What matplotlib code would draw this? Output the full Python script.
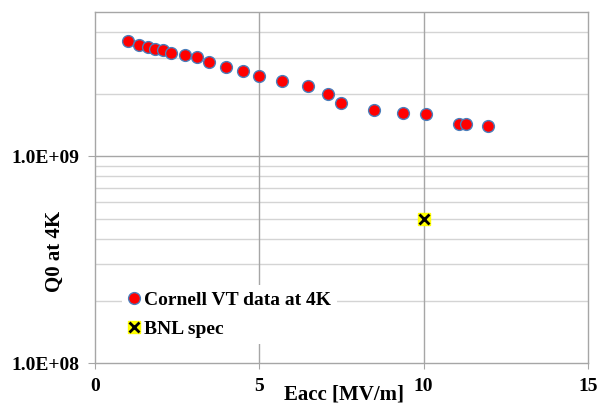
import numpy as np
import matplotlib
matplotlib.use("Agg")
import matplotlib.pyplot as plt
from matplotlib.ticker import FixedLocator, NullFormatter
from matplotlib.legend_handler import HandlerTuple

# Cornell vertical test data at 4K
eacc = [1.01, 1.33, 1.60, 1.83, 2.08, 2.31, 2.74, 3.10, 3.47, 3.98, 4.49, 4.99,
        5.68, 6.47, 7.08, 7.49, 8.48, 9.38, 10.06, 11.07, 11.28, 11.97]
q0 = [3.60e9, 3.47e9, 3.40e9, 3.30e9, 3.27e9, 3.18e9, 3.11e9, 3.02e9, 2.85e9,
      2.70e9, 2.58e9, 2.44e9, 2.32e9, 2.19e9, 2.00e9, 1.81e9, 1.67e9, 1.62e9,
      1.60e9, 1.44e9, 1.43e9, 1.40e9]

# BNL spec
spec_eacc = [10]
spec_q0 = [5e8]

plt.rcParams['font.family'] = ['Liberation Serif', 'DejaVu Serif']
plt.rcParams['font.weight'] = 'bold'

fig = plt.figure(figsize=(6.02, 4.05), dpi=100)
ax = fig.add_axes([0.1578, 0.1037, 0.8189, 0.8667])

ax.set_yscale('log')
ax.set_xlim(0, 15)
ax.set_ylim(1e8, 5e9)

# gridlines
minor = [k * 10.0**e for e in (8, 9) for k in range(2, 10) if k * 10.0**e < 5e9]
for y in minor:
    ax.axhline(y, color='#d4d4d4', lw=1.0, zorder=0)
ax.axhline(1e9, color='#a6a6a6', lw=1.0, zorder=0)
for x in (5, 10):
    ax.axvline(x, color='#a6a6a6', lw=1.0, zorder=0)

for s in ax.spines.values():
    s.set_color('#a6a6a6')
    s.set_linewidth(1.0)

cornell, = ax.plot(eacc, q0, 'o', ms=8.5, mfc='#ff0000', mec='#4a7ebb',
                   mew=1.0, zorder=3, label='Cornell VT data at 4K')
sq, = ax.plot(spec_eacc, spec_q0, 's', ms=9, mfc='#ffff00', mec='#ffff00', zorder=3)
xx, = ax.plot(spec_eacc, spec_q0, 'x', ms=7, mec='black', mew=2.0, zorder=4)

ax.xaxis.set_major_locator(FixedLocator([0, 5, 10, 15]))
ax.yaxis.set_major_locator(FixedLocator([1e8, 1e9]))
ax.yaxis.set_minor_locator(FixedLocator([]))
ax.yaxis.set_minor_formatter(NullFormatter())
ax.set_yticklabels(['1.0E+08', '1.0E+09'])
ax.tick_params(axis='y', length=5, color='#a6a6a6', labelsize=14, pad=6)
ax.tick_params(axis='x', length=4, color='#a6a6a6', labelsize=14, pad=7)

ax.set_xlabel('Eacc [MV/m]', fontsize=15, fontweight='bold')
ax.xaxis.set_label_coords(0.505, -0.062)
ax.set_ylabel('Q0 at 4K', fontsize=15, fontweight='bold')
ax.yaxis.set_label_coords(-0.062, 0.319)

leg = ax.legend([cornell, (sq, xx)], ['Cornell VT data at 4K', 'BNL spec'],
                handler_map={tuple: HandlerTuple(ndivide=1)},
                loc='lower left', bbox_to_anchor=(0.055, 0.055),
                frameon=True, edgecolor='none', facecolor='white', framealpha=1,
                fontsize=14, handlelength=0.6, handletextpad=0.25,
                labelspacing=0.6, borderpad=0.3, markerscale=1.0,
                borderaxespad=0.0)

fig.savefig('out.png', dpi=100)
